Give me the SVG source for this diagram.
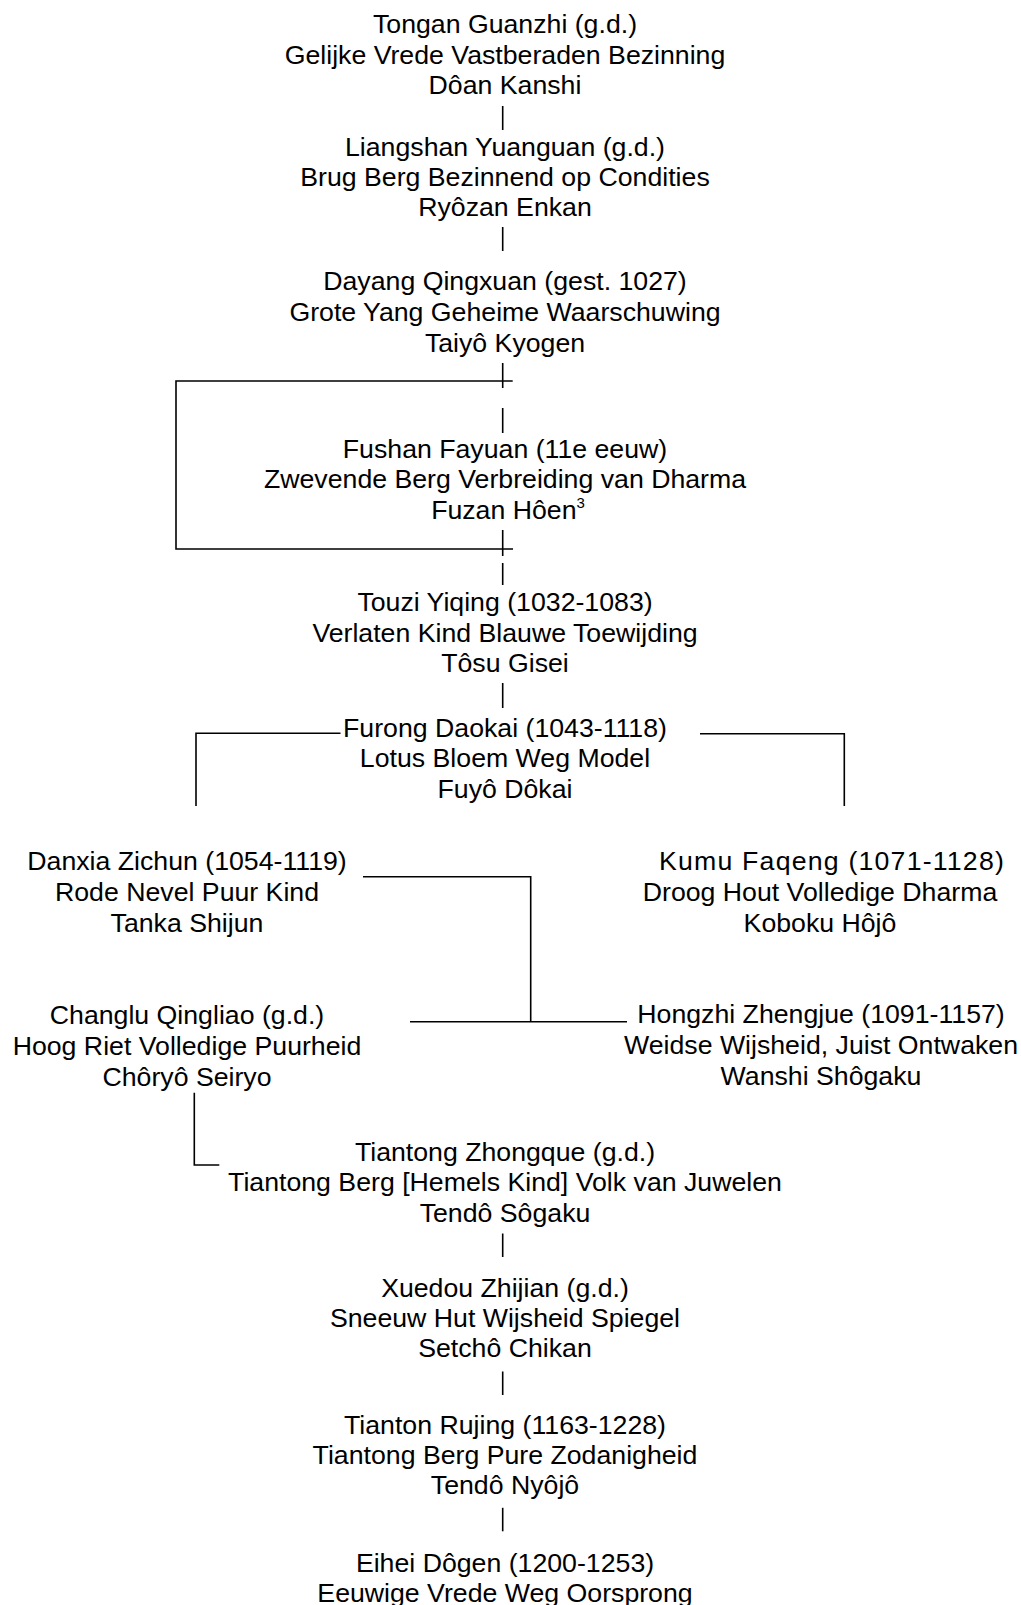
<svg xmlns="http://www.w3.org/2000/svg" width="1021" height="1605" viewBox="0 0 1021 1605">
<style>
text{font-family:"Liberation Sans",Arial,sans-serif;font-size:26.7px;fill:#000;text-anchor:middle}
.sup{font-size:15px}
line,polyline{stroke:#000;stroke-width:1.6;fill:none}
</style>
<rect width="1021" height="1605" fill="#fff"/>
<g id="connectors">
<line x1="502.7" y1="106" x2="502.7" y2="130"/>
<line x1="502.7" y1="227" x2="502.7" y2="251"/>
<line x1="502.7" y1="363" x2="502.7" y2="388"/>
<polyline points="512.7,381 176,381 176,549 513,549"/>
<line x1="502.7" y1="408" x2="502.7" y2="433"/>
<line x1="502.7" y1="530" x2="502.7" y2="556"/>
<line x1="502.7" y1="563" x2="502.7" y2="585"/>
<line x1="502.7" y1="683" x2="502.7" y2="708"/>
<polyline points="340.5,733.3 196,733.3 196,806"/>
<polyline points="700,733.7 844.3,733.7 844.3,806"/>
<polyline points="363,876.7 530.7,876.7 530.7,1021.7"/>
<line x1="410" y1="1021.7" x2="627" y2="1021.7"/>
<polyline points="194.3,1092.7 194.3,1165 219.3,1165"/>
<line x1="502.7" y1="1233.5" x2="502.7" y2="1257"/>
<line x1="502.7" y1="1371.5" x2="502.7" y2="1395"/>
<line x1="502.7" y1="1507.8" x2="502.7" y2="1531.3"/>
</g>
<g id="n-tongan">
<text x="505" y="33.3">Tongan Guanzhi (g.d.)</text>
<text x="505" y="63.5">Gelijke Vrede Vastberaden Bezinning</text>
<text x="505" y="93.5">Dôan Kanshi</text>
</g>
<g id="n-liangshan">
<text x="505" y="155.7">Liangshan Yuanguan (g.d.)</text>
<text x="505" y="185.7">Brug Berg Bezinnend op Condities</text>
<text x="505" y="215.7">Ryôzan Enkan</text>
</g>
<g id="n-dayang">
<text x="505" y="290">Dayang Qingxuan (gest. 1027)</text>
<text x="505" y="320.7">Grote Yang Geheime Waarschuwing</text>
<text x="505" y="351.5">Taiyô Kyogen</text>
</g>
<g id="n-fushan">
<text x="505" y="457.5">Fushan Fayuan (11e eeuw)</text>
<text x="505" y="488.3">Zwevende Berg Verbreiding van Dharma</text>
<text x="508" y="519">Fuzan Hôen<tspan class="sup" dy="-11">3</tspan></text>
</g>
<g id="n-touzi">
<text x="505" y="610.7">Touzi Yiqing (1032-1083)</text>
<text x="505" y="641.5">Verlaten Kind Blauwe Toewijding</text>
<text x="505" y="672">Tôsu Gisei</text>
</g>
<g id="n-furong">
<text x="505" y="736.7">Furong Daokai (1043-1118)</text>
<text x="505" y="767.3">Lotus Bloem Weg Model</text>
<text x="505" y="797.5">Fuyô Dôkai</text>
</g>
<g id="n-danxia">
<text x="187" y="870">Danxia Zichun (1054-1119)</text>
<text x="187" y="901">Rode Nevel Puur Kind</text>
<text x="187" y="931.5">Tanka Shijun</text>
</g>
<g id="n-kumu">
<text x="832" y="870" letter-spacing="1.2">Kumu Faqeng (1071-1128)</text>
<text x="820" y="901">Droog Hout Volledige Dharma</text>
<text x="820" y="931.5">Koboku Hôjô</text>
</g>
<g id="n-changlu">
<text x="187" y="1024">Changlu Qingliao (g.d.)</text>
<text x="187" y="1055">Hoog Riet Volledige Puurheid</text>
<text x="187" y="1086">Chôryô Seiryo</text>
</g>
<g id="n-hongzhi">
<text x="821" y="1023">Hongzhi Zhengjue (1091-1157)</text>
<text x="821" y="1054">Weidse Wijsheid, Juist Ontwaken</text>
<text x="821" y="1085">Wanshi Shôgaku</text>
</g>
<g id="n-tiantong">
<text x="505" y="1160.5">Tiantong Zhongque (g.d.)</text>
<text x="505" y="1191">Tiantong Berg [Hemels Kind] Volk van Juwelen</text>
<text x="505" y="1221.5">Tendô Sôgaku</text>
</g>
<g id="n-xuedou">
<text x="505" y="1296.7">Xuedou Zhijian (g.d.)</text>
<text x="505" y="1327">Sneeuw Hut Wijsheid Spiegel</text>
<text x="505" y="1357.3">Setchô Chikan</text>
</g>
<g id="n-rujing">
<text x="505" y="1433.7">Tianton Rujing (1163-1228)</text>
<text x="505" y="1464">Tiantong Berg Pure Zodanigheid</text>
<text x="505" y="1494.3">Tendô Nyôjô</text>
</g>
<g id="n-dogen">
<text x="505" y="1571.7">Eihei Dôgen (1200-1253)</text>
<text x="505" y="1602">Eeuwige Vrede Weg Oorsprong</text>
</g>
</svg>
